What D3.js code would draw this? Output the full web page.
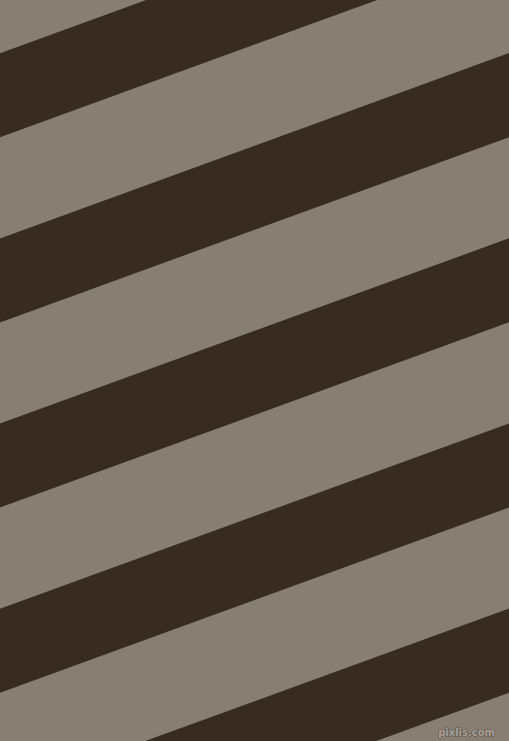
<!DOCTYPE html>
<html>
<head>
<meta charset="utf-8">
<script src="https://cdn.jsdelivr.net/npm/d3@7"></script>
<style>
  html, body { margin: 0; padding: 0; background: #887f74; }
  svg { display: block; }
</style>
</head>
<body>
<script>
var stripeNames = ["band 1", "band 2", "band 3", "band 4", "band 5"]
var stripeStart = [50, 224, 398, 572, 746]
var stripeEnd = [129, 303, 477, 651, 825]
var stripeAngle = 20 // degrees, lines rise to the right
var colors = ["#887f74", "#372b22"] // light, dark

var width = 509, height = 741

var svg = d3.select("body").append("svg")
  .attr("width", width)
  .attr("height", height)

// background = light stripes
svg.append("rect")
  .attr("width", width)
  .attr("height", height)
  .attr("fill", colors[0])

// across-stripe axis: identity scale in the rotated frame
var y = d3.scaleLinear().domain([0, 1000]).range([0, 1000])
var x = d3.scaleLinear().domain([-400, 900]).range([-400, 900])

var g = svg.append("g")
  .attr("transform", "rotate(" + (-stripeAngle) + ")")

g.selectAll("rect.stripe")
  .data(stripeNames)
  .enter().append("rect")
  .attr("class", "stripe")
  .attr("x", x(-400))
  .attr("width", x(900) - x(-400))
  .attr("y", function(d, i) { return y(stripeStart[i]) })
  .attr("height", function(d, i) { return y(stripeEnd[i]) - y(stripeStart[i]) })
  .attr("fill", colors[1])

// watermark, light letters with a dark rim
svg.append("text")
  .attr("x", 495)
  .attr("y", 736)
  .attr("text-anchor", "end")
  .attr("font-family", "DejaVu Sans, sans-serif")
  .attr("font-size", 10)
  .attr("font-weight", "bold")
  .attr("fill", "#a8a096")
  .attr("stroke", "#5e564c")
  .attr("stroke-width", 1.2)
  .attr("paint-order", "stroke")
  .text("pixlis.com")
</script>
</body>
</html>
